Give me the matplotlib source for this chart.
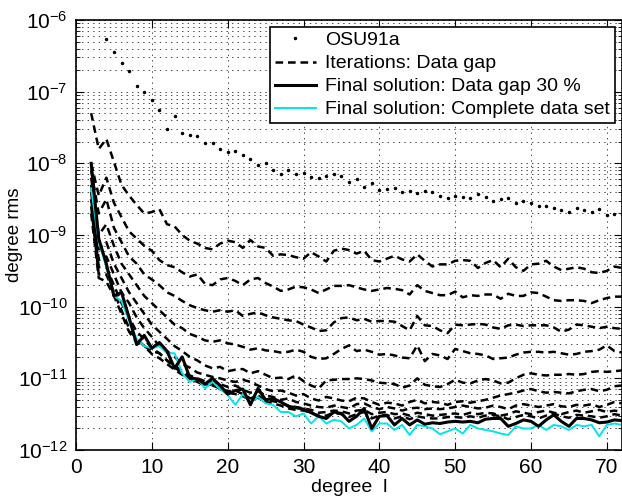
import numpy as np
import matplotlib
matplotlib.use("Agg")
import matplotlib.pyplot as plt
from matplotlib.ticker import LogLocator, MultipleLocator, NullFormatter

plt.rcParams['font.family'] = ['Liberation Sans', 'DejaVu Sans']
plt.rcParams['lines.scale_dashes'] = False

# log10 of degree rms
osu_deg = list(range(4, 73))
osu91a = [-6.27, -6.45, -6.60, -6.71, -6.92, -7.00, -7.11, -7.26, -7.52, -7.34,
          -7.58, -7.60, -7.62, -7.72, -7.72, -7.80, -7.84, -7.83, -7.89, -7.94,
          -8.02, -7.99, -8.09, -8.15, -8.09, -8.15, -8.14, -8.19, -8.21, -8.17,
          -8.15, -8.17, -8.26, -8.22, -8.33, -8.28, -8.37, -8.36, -8.34, -8.40,
          -8.39, -8.41, -8.38, -8.40, -8.45, -8.49, -8.45, -8.47, -8.48, -8.43,
          -8.47, -8.53, -8.50, -8.49, -8.55, -8.52, -8.56, -8.59, -8.60, -8.62,
          -8.65, -8.68, -8.63, -8.65, -8.68, -8.64, -8.72, -8.71, -8.71]

iterations = [
    [-7.30, -7.80, -7.66, -7.98, -8.30, -8.45, -8.58, -8.70, -8.68, -8.64, -8.85, -8.88, -9.00, -9.08, -9.12, -9.18,
     -9.20, -9.12, -9.08, -9.10, -9.18, -9.07, -9.16, -9.18, -9.29, -9.27, -9.28, -9.31, -9.33, -9.24, -9.30, -9.37, -9.22,
     -9.19, -9.21, -9.26, -9.22, -9.35, -9.37, -9.33, -9.29, -9.34, -9.37, -9.27, -9.36, -9.44, -9.41, -9.41, -9.36, -9.35,
     -9.36, -9.46, -9.39, -9.35, -9.45, -9.33, -9.45, -9.50, -9.41, -9.40, -9.36, -9.44, -9.49, -9.47, -9.45, -9.47, -9.52,
     -9.53, -9.50, -9.44, -9.46],
    [-8.00, -8.45, -8.20, -8.55, -8.75, -8.95, -9.05, -9.15, -9.22, -9.35, -9.42, -9.45, -9.52, -9.58, -9.55, -9.68,
     -9.70, -9.62, -9.60, -9.64, -9.70, -9.62, -9.60, -9.67, -9.72, -9.78, -9.76, -9.72, -9.73, -9.76, -9.81, -9.76, -9.71,
     -9.71, -9.70, -9.73, -9.76, -9.78, -9.76, -9.74, -9.75, -9.77, -9.83, -9.70, -9.78, -9.81, -9.84, -9.84, -9.79, -9.87,
     -9.84, -9.85, -9.83, -9.83, -9.89, -9.82, -9.85, -9.85, -9.80, -9.81, -9.86, -9.91, -9.92, -9.91, -9.91, -9.92, -9.95,
     -9.91, -9.88, -9.86, -9.86],
    [-8.10, -8.70, -8.50, -8.90, -9.10, -9.30, -9.40, -9.55, -9.62, -9.70, -9.80, -9.85, -9.92, -9.98, -10.02, -10.05,
     -10.07, -10.05, -10.07, -10.05, -10.13, -10.10, -10.08, -10.12, -10.15, -10.17, -10.19, -10.20, -10.25, -10.29, -10.34,
     -10.33, -10.22, -10.16, -10.15, -10.19, -10.17, -10.21, -10.20, -10.20, -10.21, -10.27, -10.33, -10.13, -10.26, -10.27,
     -10.33, -10.37, -10.25, -10.26, -10.25, -10.24, -10.25, -10.29, -10.31, -10.26, -10.25, -10.27, -10.26, -10.26, -10.26,
     -10.29, -10.35, -10.32, -10.25, -10.26, -10.28, -10.30, -10.28, -10.30, -10.31],
    [-8.20, -9.00, -8.85, -9.15, -9.40, -9.55, -9.70, -9.85, -9.95, -10.05, -10.15, -10.25, -10.30, -10.38, -10.42, -10.47,
     -10.49, -10.47, -10.51, -10.53, -10.56, -10.60, -10.58, -10.61, -10.62, -10.64, -10.63, -10.60, -10.63, -10.70, -10.73,
     -10.72, -10.66, -10.59, -10.54, -10.62, -10.60, -10.63, -10.67, -10.66, -10.68, -10.71, -10.72, -10.54, -10.76, -10.66,
     -10.68, -10.73, -10.59, -10.62, -10.65, -10.66, -10.68, -10.73, -10.72, -10.71, -10.67, -10.64, -10.63, -10.63, -10.64,
     -10.63, -10.65, -10.67, -10.66, -10.63, -10.62, -10.60, -10.54, -10.62, -10.64],
    [-8.30, -9.20, -9.10, -9.40, -9.60, -9.80, -9.95, -10.10, -10.25, -10.35, -10.45, -10.55, -10.62, -10.70, -10.75, -10.82,
     -10.86, -10.84, -10.90, -10.88, -10.87, -10.93, -10.90, -10.95, -11.00, -10.99, -11.01, -10.96, -11.04, -11.10, -11.14,
     -11.03, -11.02, -11.01, -11.01, -11.00, -11.01, -11.03, -11.06, -11.07, -11.08, -11.13, -11.10, -11.00, -11.09, -11.11,
     -11.12, -11.08, -11.02, -11.06, -11.07, -11.03, -11.01, -11.03, -11.07, -11.06, -11.00, -10.95, -10.93, -10.95, -10.96,
     -10.95, -10.95, -10.94, -10.95, -10.94, -10.91, -10.90, -10.91, -10.90, -10.89],
    [-8.40, -9.35, -9.30, -9.55, -9.80, -9.95, -10.15, -10.30, -10.42, -10.55, -10.62, -10.70, -10.80, -10.85, -10.92, -10.95,
     -10.98, -11.00, -11.03, -11.05, -11.02, -11.05, -11.10, -11.15, -11.18, -11.17, -11.20, -11.24, -11.22, -11.28, -11.31,
     -11.26, -11.28, -11.31, -11.32, -11.27, -11.28, -11.33, -11.37, -11.34, -11.35, -11.38, -11.33, -11.30, -11.35, -11.33,
     -11.34, -11.37, -11.33, -11.32, -11.34, -11.32, -11.30, -11.27, -11.24, -11.22, -11.20, -11.17, -11.15, -11.18, -11.20,
     -11.19, -11.20, -11.21, -11.18, -11.16, -11.15, -11.18, -11.16, -11.11, -11.10],
    [-8.50, -9.45, -9.45, -9.70, -9.95, -10.15, -10.35, -10.45, -10.58, -10.65, -10.75, -10.82, -10.90, -10.96, -11.00, -11.04,
     -11.05, -11.08, -11.12, -11.10, -11.16, -11.20, -11.18, -11.24, -11.26, -11.30, -11.28, -11.33, -11.35, -11.38, -11.40,
     -11.41, -11.38, -11.40, -11.42, -11.36, -11.35, -11.40, -11.43, -11.40, -11.42, -11.45, -11.42, -11.41, -11.43, -11.42,
     -11.43, -11.42, -11.40, -11.38, -11.40, -11.42, -11.41, -11.38, -11.40, -11.43, -11.38, -11.36, -11.38, -11.40, -11.38,
     -11.36, -11.39, -11.40, -11.37, -11.38, -11.36, -11.40, -11.37, -11.33, -11.35],
    [-8.60, -9.55, -9.55, -9.80, -10.05, -10.30, -10.45, -10.55, -10.66, -10.72, -10.80, -10.88, -10.95, -11.00, -11.05, -11.08,
     -11.10, -11.14, -11.18, -11.17, -11.22, -11.28, -11.24, -11.30, -11.32, -11.34, -11.38, -11.40, -11.42, -11.44, -11.48,
     -11.47, -11.45, -11.46, -11.49, -11.45, -11.44, -11.50, -11.48, -11.47, -11.50, -11.49, -11.52, -11.48, -11.50, -11.52,
     -11.51, -11.50, -11.49, -11.51, -11.48, -11.50, -11.48, -11.49, -11.52, -11.50, -11.46, -11.48, -11.50, -11.47, -11.45,
     -11.48, -11.50, -11.47, -11.45, -11.48, -11.46, -11.44, -11.47, -11.45, -11.47],
    [-8.70, -9.60, -9.65, -9.85, -10.10, -10.35, -10.50, -10.55, -10.62, -10.65, -10.75, -10.85, -10.92, -11.00, -11.05, -11.10,
     -11.08, -11.15, -11.20, -11.22, -11.25, -11.30, -11.27, -11.33, -11.35, -11.38, -11.42, -11.44, -11.45, -11.48, -11.52,
     -11.52, -11.48, -11.50, -11.54, -11.50, -11.47, -11.56, -11.52, -11.51, -11.56, -11.53, -11.57, -11.53, -11.55, -11.56,
     -11.56, -11.54, -11.54, -11.55, -11.53, -11.55, -11.52, -11.51, -11.53, -11.57, -11.54, -11.51, -11.53, -11.56, -11.52,
     -11.49, -11.53, -11.55, -11.51, -11.52, -11.53, -11.55, -11.53, -11.50, -11.52],
]

final_gap = [-8.00, -9.05, -9.40, -9.85, -9.80, -10.15, -10.53, -10.40, -10.58, -10.50, -10.62, -10.86, -10.70, -10.99,
             -11.01, -11.08, -11.00, -11.10, -11.22, -11.17, -11.15, -11.37, -11.14, -11.30, -11.28, -11.33, -11.39, -11.41,
             -11.43, -11.48, -11.53, -11.56, -11.47, -11.49, -11.60, -11.53, -11.42, -11.70, -11.53, -11.52, -11.65, -11.56,
             -11.65, -11.58, -11.64, -11.62, -11.63, -11.61, -11.60, -11.61, -11.60, -11.62, -11.57, -11.56, -11.56, -11.67,
             -11.63, -11.58, -11.60, -11.67, -11.58, -11.51, -11.60, -11.67, -11.56, -11.56, -11.58, -11.62, -11.61, -11.58,
             -11.59]

final_complete = [-8.35, -9.10, -9.45, -9.85, -9.92, -10.20, -10.45, -10.55, -10.58, -10.55, -10.65, -10.65, -10.93,
                  -11.05, -11.00, -11.14, -11.05, -11.15, -11.23, -11.37, -11.22, -11.33, -11.26, -11.35, -11.37, -11.47,
                  -11.47, -11.53, -11.49, -11.63, -11.53, -11.63, -11.58, -11.60, -11.70, -11.65, -11.56, -11.74, -11.63,
                  -11.63, -11.72, -11.65, -11.79, -11.65, -11.67, -11.70, -11.78, -11.74, -11.70, -11.77, -11.65, -11.70,
                  -11.72, -11.74, -11.77, -11.79, -11.67, -11.70, -11.70, -11.65, -11.72, -11.65, -11.67, -11.72, -11.65,
                  -11.67, -11.65, -11.81, -11.65, -11.63, -11.65]

fig = plt.figure(figsize=(6.22, 4.97), dpi=100)
ax = fig.add_axes([76/622, 47/497, 546/622, 430/497])

ax.semilogy(osu_deg, 10**np.array(osu91a), 'k.', ms=3, label='OSU91a')
for i, it in enumerate(iterations):
    deg = np.arange(2, 2 + len(it))
    ax.semilogy(deg, 10**np.array(it), color='k', ls='--', lw=1.8, dashes=(5.5, 3.5),
                label='Iterations: Data gap' if i == 0 else None)
ax.semilogy(np.arange(2, 2 + len(final_gap)), 10**np.array(final_gap), color='k', lw=2.2,
            label='Final solution: Data gap 30 %', zorder=3)
ax.semilogy(np.arange(2, 2 + len(final_complete)), 10**np.array(final_complete), color='#00e5ee', lw=1.4,
            label='Final solution: Complete data set')

ax.set_xlim(0, 72)
ax.set_ylim(1e-12, 1e-6)
ax.xaxis.set_major_locator(MultipleLocator(10))
ax.yaxis.set_major_locator(LogLocator(base=10, numticks=10))
ax.yaxis.set_minor_locator(LogLocator(base=10, subs=np.arange(2, 10), numticks=20))
ax.yaxis.set_minor_formatter(NullFormatter())
ax.grid(True, which='major', color='k', lw=0.5, dashes=(1, 3))
ax.grid(True, which='minor', axis='y', color='k', lw=0.5, dashes=(1, 3))
ax.tick_params(which='both', direction='in', top=True, right=True, labelsize=15)
ax.tick_params(which='major', length=6, pad=6)
ax.tick_params(which='minor', length=3)
for s in ax.spines.values():
    s.set_linewidth(1.2)

ax.set_xlabel('degree  l', fontsize=14, labelpad=1)
ax.set_ylabel('degree rms', fontsize=13.5)
ax.yaxis.set_label_coords(-0.097, 0.5)

leg = ax.legend(loc='upper right', fontsize=14, frameon=True, fancybox=False, framealpha=1,
                edgecolor='k', borderaxespad=0.35, handlelength=2.1, handletextpad=0.5,
                labelspacing=0.28, borderpad=0.25)
leg.get_frame().set_linewidth(1.2)

fig.savefig('out.png', dpi=100)
